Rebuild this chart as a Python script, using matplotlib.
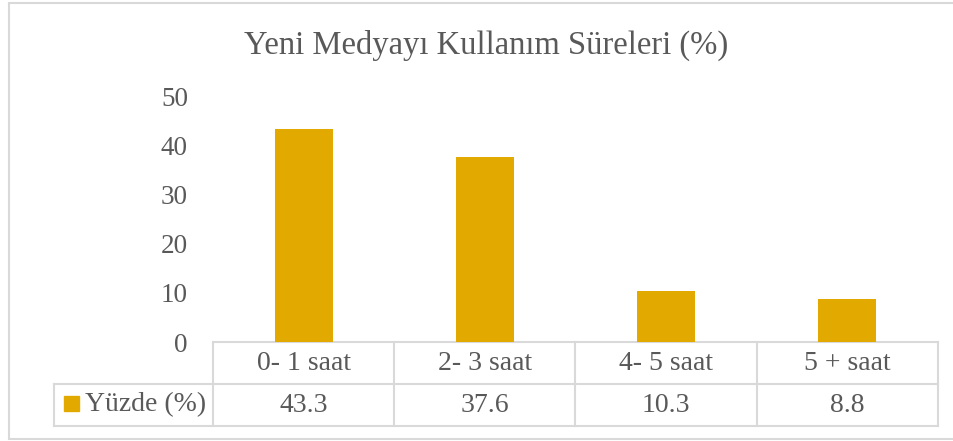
import matplotlib
matplotlib.use("Agg")
import matplotlib.pyplot as plt
from matplotlib.transforms import blended_transform_factory
from matplotlib.patches import Rectangle

title = "Yeni Medyayı Kullanım Süreleri (%)"
categories = ["0- 1 saat", "2- 3 saat", "4- 5 saat", "5 + saat"]
series_name = "Yüzde (%)"
values = [43.3, 37.6, 10.3, 8.8]
value_labels = ["43.3", "37.6", "10.3", "8.8"]
yticks = [0, 10, 20, 30, 40, 50]

W, H = 954, 441
TXT = "#595959"
LINE = "#D9D9D9"
BAR = "#E2AA00"
FONT = ["Liberation Serif", "DejaVu Serif"]

plt.rcParams["font.family"] = FONT

fig = plt.figure(figsize=(W / 100, H / 100), dpi=100)

# overlay in pixel coordinates for the table / border
ov = fig.add_axes([0, 0, 1, 1])
ov.set_xlim(0, W)
ov.set_ylim(H, 0)
ov.axis("off")

ax = fig.add_axes([213 / W, 1 - 342 / H, (938 - 213) / W, (342 - 96) / H])
x = list(range(len(categories)))
ax.bar(x, values, width=0.32, color=BAR, zorder=3)
ax.set_xlim(-0.5, len(categories) - 0.5)
ax.set_ylim(0, 50)
ax.set_yticks(yticks)
ax.set_yticklabels([str(t) for t in yticks])
ax.tick_params(axis="y", length=0, pad=18, labelsize=19.5, labelcolor=TXT)
ax.set_xticks([])
for s in ax.spines.values():
    s.set_visible(False)
ax.patch.set_alpha(0)

fig.text(486 / W, 1 - 45 / H, title, ha="center", va="center",
         fontsize=23.5, color=TXT)

# outer border (left, top, bottom)
lw = 1.5
ov.plot([9, 9], [3, 439], color=LINE, lw=lw, solid_capstyle="butt")
ov.plot([9, W], [3, 3], color=LINE, lw=lw)
ov.plot([9, W], [439, 439], color=LINE, lw=lw)

# data table
top, mid, bot = 342, 384, 426
left_cell = 54
tr = blended_transform_factory(ax.transData, ov.transData)
ov.plot([213, 938], [top, top], color=LINE, lw=lw)
ov.plot([left_cell, 938], [mid, mid], color=LINE, lw=lw)
ov.plot([left_cell, 938], [bot, bot], color=LINE, lw=lw)
ov.plot([left_cell, left_cell], [mid, bot], color=LINE, lw=lw)
for i in range(len(categories) + 1):
    ov.plot([i - 0.5, i - 0.5], [top, bot], color=LINE, lw=lw, transform=tr)
for i, (c, v) in enumerate(zip(categories, value_labels)):
    ov.text(i, (top + mid) / 2, c, ha="center", va="center", fontsize=20,
            color=TXT, transform=tr)
    ov.text(i, (mid + bot) / 2, v, ha="center", va="center", fontsize=20,
            color=TXT, transform=tr)

ov.add_patch(Rectangle((64, 396), 15, 15, color=BAR))
ov.text(85, (mid + bot) / 2, series_name, ha="left", va="center",
        fontsize=20, color=TXT)

fig.savefig("out.png", dpi=100)
